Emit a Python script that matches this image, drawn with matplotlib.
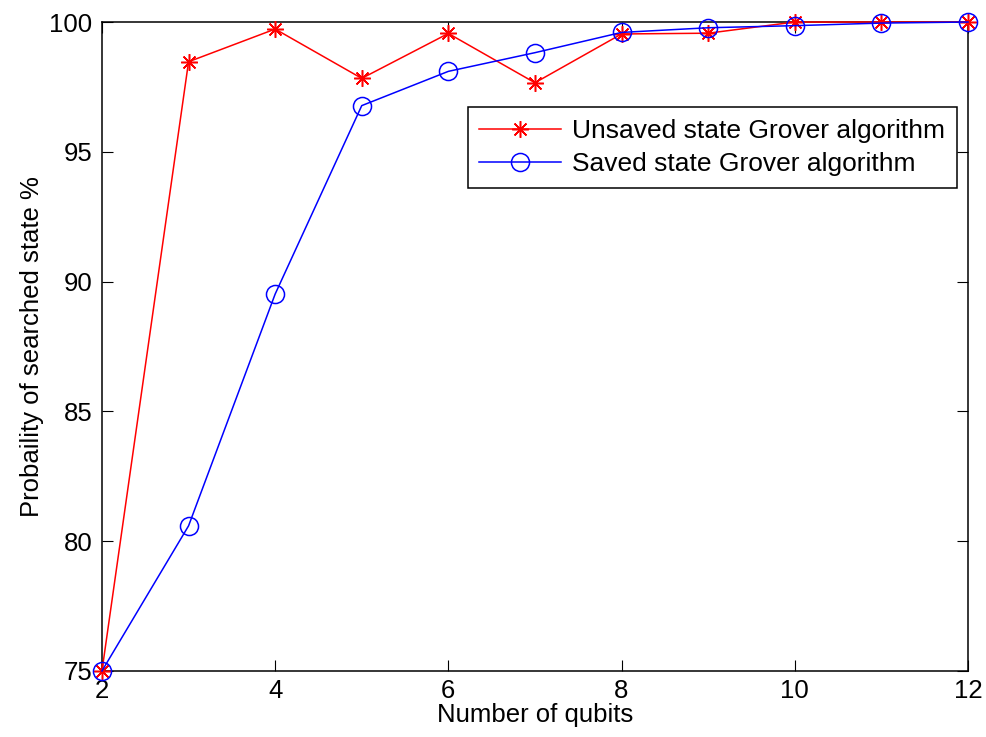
import matplotlib.pyplot as plt

plt.rcParams['font.family'] = ['Liberation Sans', 'DejaVu Sans']

qubits = [2, 3, 4, 5, 6, 7, 8, 9, 10, 11, 12]
unsaved = [75.0, 98.47, 99.73, 97.83, 99.56, 97.66, 99.54, 99.57, 100.0, 100.0, 100.0]
saved = [75.0, 80.59, 89.52, 96.78, 98.10, 98.82, 99.60, 99.78, 99.86, 99.96, 100.0]

fig = plt.figure(figsize=(9.86, 7.37), dpi=100)
ax = fig.add_axes([0.1034, 0.0896, 0.8783, 0.8805])

ax.plot(qubits, unsaved, color='red', lw=1.1, marker=(8, 2, 0), ms=12,
        mew=1.1, label='Unsaved state Grover algorithm', clip_on=False, zorder=3)
ax.plot(qubits, saved, color='blue', lw=1.1, marker='o', ms=13,
        mfc='none', mew=1.1, label='Saved state Grover algorithm', clip_on=False, zorder=3)

ax.set_xlim(2, 12)
ax.set_ylim(75, 100)
ax.set_xticks(range(2, 13, 2))
ax.set_yticks(range(75, 101, 5))
ax.tick_params(direction='in', top=True, right=True, labelsize=18.5, length=8)
ax.tick_params(axis='y', pad=7)
ax.tick_params(axis='x', pad=6)
for s in ax.spines.values():
    s.set_linewidth(1.1)

ax.set_xlabel('Number of qubits', fontsize=18.5, labelpad=0)
ax.set_ylabel('Probaility of searched state %', fontsize=18.5, labelpad=4)

leg = ax.legend(loc='upper right', bbox_to_anchor=(0.987, 0.869), fontsize=19,
                fancybox=False, edgecolor='black', framealpha=1, borderaxespad=0,
                handlelength=3.1, borderpad=0.45, labelspacing=0.35, handletextpad=0.4)
leg.get_frame().set_linewidth(1.1)

fig.savefig('out.png', dpi=100)
